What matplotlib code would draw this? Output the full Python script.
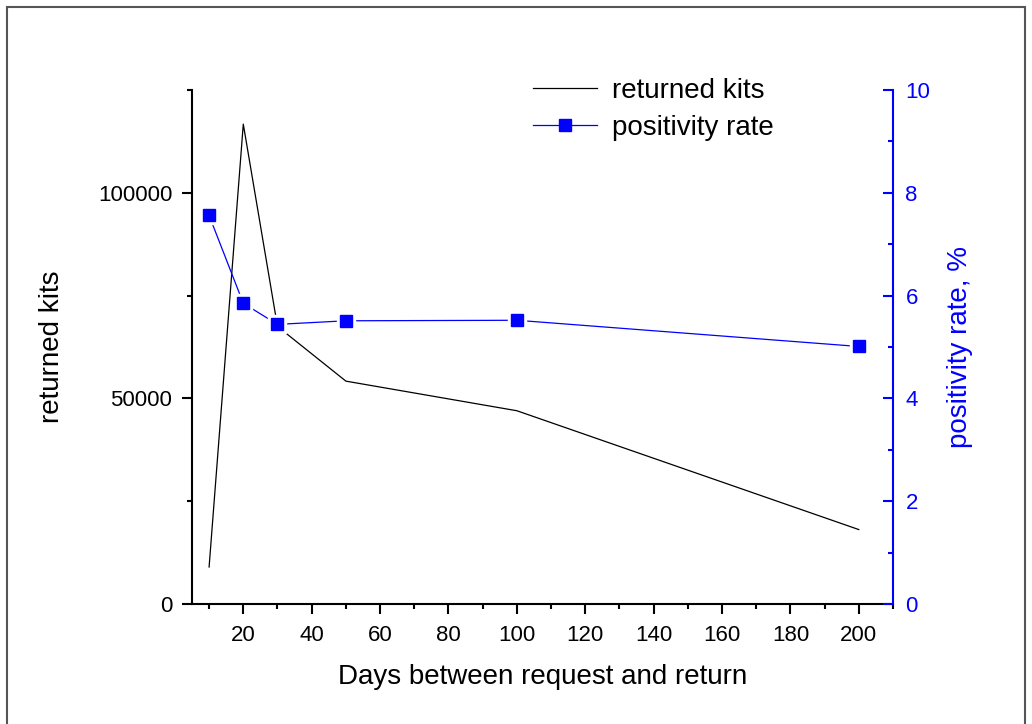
import matplotlib
matplotlib.use("Agg")
import matplotlib.pyplot as plt
from matplotlib.ticker import MultipleLocator
from matplotlib.patches import Rectangle

plt.rcParams['font.family'] = ['Liberation Sans', 'DejaVu Sans']

days = [10, 20, 30, 50, 100, 200]
returned_kits = [9000, 116700, 67500, 54200, 47000, 18100]
positivity_rate = [7.56, 5.85, 5.44, 5.51, 5.52, 5.01]

W, H = 1032, 724
fig = plt.figure(figsize=(W / 100, H / 100), dpi=100)
ax1 = fig.add_axes([192 / W, 1 - 604 / H, (893 - 192) / W, (604 - 90) / H])
ax2 = ax1.twinx()

l1, = ax1.plot(days, returned_kits, color='black', lw=0.9, label='returned kits')
ax1.set_xlim(5, 210)
ax1.set_ylim(0, 125000)

# white pads to create small gaps around markers (Origin style)
ax2.plot(days, positivity_rate, color='blue', lw=0.9, zorder=2)
ax2.plot(days, positivity_rate, ls='none', marker='s', ms=13, mfc='white', mec='white', zorder=3)
ax2.plot(days, positivity_rate, ls='none', marker='s', ms=8.6, mfc='blue', mec='blue', zorder=4)
ax2.set_ylim(0, 10)
l2, = ax2.plot([], [], color='blue', lw=0.9, marker='s', ms=8.6, label='positivity rate')

for s in ['top', 'right']:
    ax1.spines[s].set_visible(False)
for s in ['top', 'left', 'bottom']:
    ax2.spines[s].set_visible(False)
ax1.spines['left'].set_linewidth(1.5)
ax1.spines['bottom'].set_linewidth(1.5)
ax2.spines['right'].set_linewidth(1.5)
ax2.spines['right'].set_color('blue')

ax1.xaxis.set_major_locator(MultipleLocator(20))
ax1.xaxis.set_minor_locator(MultipleLocator(10))
ax1.yaxis.set_major_locator(MultipleLocator(50000))
ax1.yaxis.set_minor_locator(MultipleLocator(25000))
ax2.yaxis.set_major_locator(MultipleLocator(2))
ax2.yaxis.set_minor_locator(MultipleLocator(1))

ax1.tick_params(axis='y', which='major', direction='out', length=7.2, width=1.5, labelsize=16, pad=7)
ax1.tick_params(axis='x', which='major', direction='out', length=7.2, width=1.5, labelsize=16, pad=8)
ax1.tick_params(axis='both', which='minor', direction='out', length=3.6, width=1.5)
ax2.tick_params(axis='y', which='major', direction='in', length=7.2, width=1.5, labelsize=16,
                colors='blue', pad=9)
ax2.tick_params(axis='y', which='minor', direction='in', length=3.6, width=1.5, colors='blue')

ax1.set_xlabel('Days between request and return', fontsize=20, labelpad=13)
ax1.set_ylabel('returned kits', fontsize=20, labelpad=24)
ax2.set_ylabel('positivity rate, %', fontsize=20, color='blue', labelpad=12)

fig.legend(handles=[l1, l2], loc='upper left', bbox_to_anchor=(533 / W, 1 - 78 / H),
           frameon=False, fontsize=20, handlelength=2.3, handletextpad=0.55,
           labelspacing=0.38, borderpad=0, borderaxespad=0)

fig.patches.append(Rectangle((7 / W, -0.1), (1025 - 7) / W, 1.1 - 7 / H,
                             transform=fig.transFigure, fill=False,
                             edgecolor='#555555', lw=1.5, clip_on=False))

fig.savefig('out.png', dpi=100)
